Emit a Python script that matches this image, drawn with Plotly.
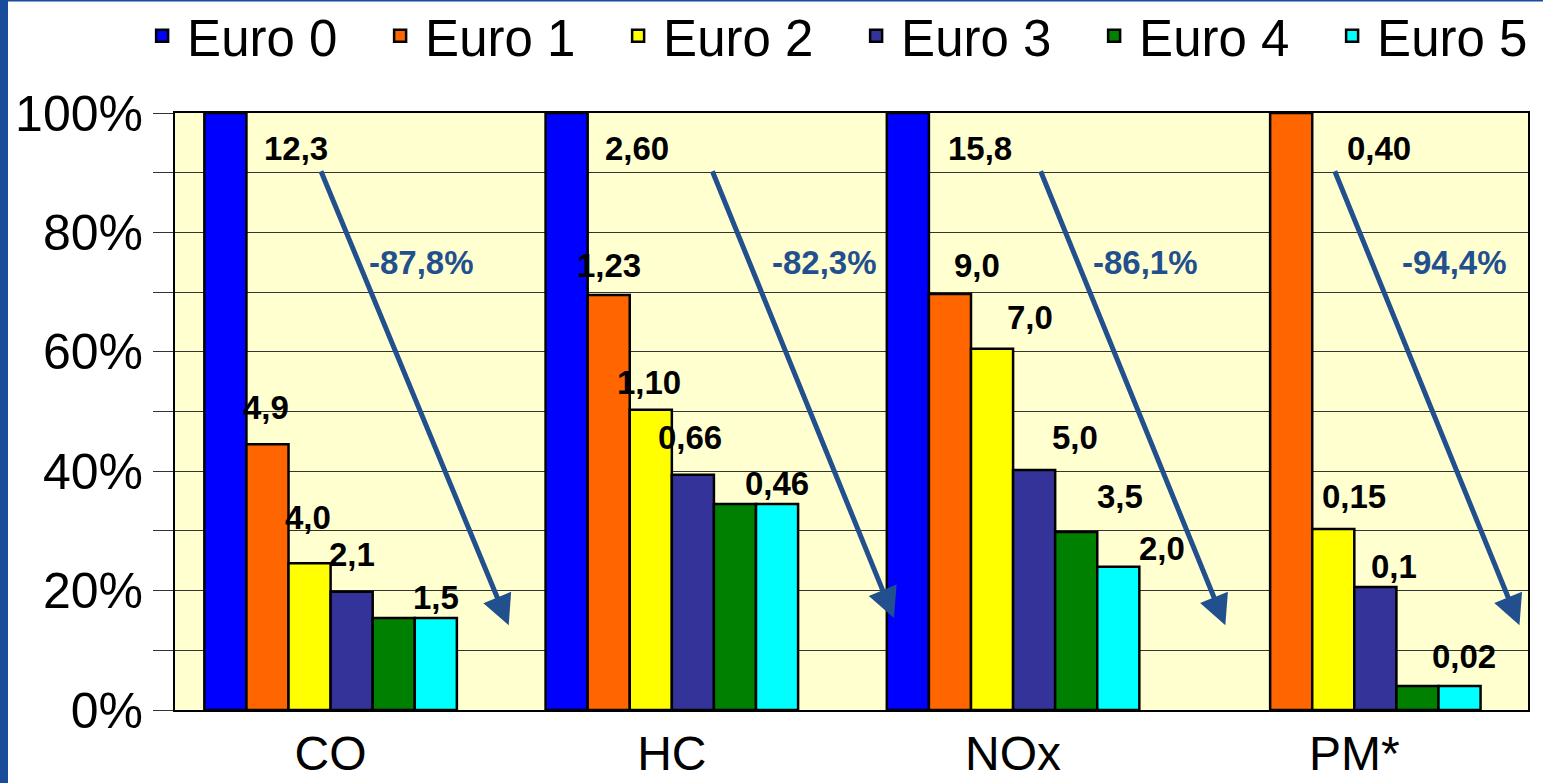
import plotly.graph_objects as go

categories = ["CO", "HC", "NOx", "PM*"]
series_names = ["Euro 0", "Euro 1", "Euro 2", "Euro 3", "Euro 4", "Euro 5"]
colors = ["#0000FF", "#FF6600", "#FFFF00", "#333399", "#008000", "#00FFFF"]

# relative level (% of the oldest standard) per category, per Euro stage
euro0 = [100, 100, 100, None]
euro1 = [44.5, 69.5, 69.7, 100]
euro2 = [24.6, 50.3, 60.5, 30.3]
euro3 = [19.8, 39.4, 40.2, 20.6]
euro4 = [15.4, 34.5, 29.8, 4.0]
euro5 = [15.4, 34.5, 24.0, 4.0]
series_values = [euro0, euro1, euro2, euro3, euro4, euro5]

# value labels (g/km etc.), with position offset from category centre and height
label_cat = [0, 0, 0, 0, 0, 1, 1, 1, 1, 1, 2, 2, 2, 2, 2, 2, 3, 3, 3, 3]
label_text = ["12,3", "4,9", "4,0", "2,1", "1,5",
              "2,60", "1,23", "1,10", "0,66", "0,46",
              "15,8", "9,0", "7,0", "5,0", "3,5", "2,0",
              "0,40", "0,15", "0,1", "0,02"]
label_dx = [-0.10, -0.188, -0.065, 0.062, 0.308,
            -0.103, -0.185, -0.067, 0.053, 0.308,
            -0.097, -0.106, 0.05, 0.18, 0.314, 0.437,
            0.073, 0.0, 0.117, 0.322]
label_y = [94, 50.6, 32.2, 26, 18.8,
           94, 74.5, 54.8, 45.6, 38,
           94, 74.5, 65.7, 45.6, 35.7, 27.1,
           94, 35.7, 24, 8.9]

# reduction arrows and labels
reduction_text = ["-87,8%", "-82,3%", "-86,1%", "-94,4%"]
reduction_dx = [0.267, 0.446, 0.387, 0.293]
reduction_y = [75, 75, 75, 75]
arrow_tail_dx = [-0.03, 0.117, 0.079, -0.059]
arrow_tail_y = [90.5, 90.5, 90.5, 90.5]
arrow_head_dx = [0.522, 0.651, 0.622, 0.484]
arrow_head_y = [14.2, 15.4, 14.2, 14.2]

fig = go.Figure()
for name, col, vals in zip(series_names, colors, series_values):
    fig.add_trace(go.Bar(
        x=categories, y=vals, name=name,
        marker=dict(color=col, line=dict(color="black", width=2.5)),
    ))

ann = []
for c, t, dx, y in zip(label_cat, label_text, label_dx, label_y):
    ann.append(dict(x=c + dx, y=y, xref="x", yref="y", text=f"<b>{t}</b>",
                    showarrow=False, font=dict(family="Liberation Sans, Arial", size=33, color="black")))
arrow_color = "#22508F"
for i in range(4):
    ann.append(dict(x=i + arrow_head_dx[i], y=arrow_head_y[i], xref="x", yref="y",
                    ax=i + arrow_tail_dx[i], ay=arrow_tail_y[i], axref="x", ayref="y",
                    text="", showarrow=True, arrowhead=2, arrowsize=1.2, arrowwidth=5,
                    arrowcolor=arrow_color, standoff=0, startstandoff=0))
    ann.append(dict(x=i + reduction_dx[i], y=reduction_y[i], xref="x", yref="y",
                    text=f"<b>{reduction_text[i]}</b>", showarrow=False,
                    font=dict(family="Liberation Sans, Arial", size=33, color=arrow_color)))

W, H = 1543, 783
L, R, T, B = 175, 15, 113, 73
pw = W - L - R
ph = H - T - B

shapes = [
    # blue slide frame on the left and top
    dict(type="rect", xref="paper", yref="paper", x0=-L / pw, x1=(8 - L) / pw,
         y0=-B / ph, y1=1 + T / ph, fillcolor="#1A4C9C", line=dict(width=0), layer="above"),
    dict(type="rect", xref="paper", yref="paper", x0=-L / pw, x1=1 + R / pw,
         y0=1 + (T - 1.5) / ph, y1=1 + T / ph, fillcolor="#1A4C9C", line=dict(width=0), layer="above"),
]

fig.update_layout(
    width=W, height=H,
    margin=dict(l=L, r=R, t=T, b=B, autoexpand=False),
    paper_bgcolor="white",
    plot_bgcolor="#FFFFD0",
    barmode="group", bargap=0.26, bargroupgap=0,
    font=dict(family="Liberation Sans, Arial", color="black"),
    legend=dict(orientation="h", x=-0.028, xanchor="left", y=1 + (T - 36) / ph, yanchor="middle",
                font=dict(size=51), itemwidth=40, entrywidth=183, bgcolor="rgba(0,0,0,0)",
                traceorder="normal"),
    annotations=ann,
    shapes=shapes,
    showlegend=True,
)
fig.update_xaxes(range=[-0.456, 3.509], showgrid=False, ticks="", tickfont=dict(size=48),
                 showline=True, linecolor="black", linewidth=2, mirror=True, ticklabelstandoff=0)
fig.update_yaxes(range=[0, 100], tickvals=[0, 20, 40, 60, 80, 100],
                 ticktext=["0%", "20%", "40%", "60%", "80%", "100%"],
                 tickfont=dict(size=50), ticks="outside", ticklen=20, tickcolor="#333",
                 showgrid=True, gridcolor="#333", gridwidth=1,
                 minor=dict(dtick=10, tick0=0, showgrid=True, gridcolor="#333", gridwidth=1,
                            ticks="outside", ticklen=20, tickcolor="#333"),
                 showline=True, linecolor="black", linewidth=2, mirror=True, zeroline=False)

fig.write_html("out.html")
